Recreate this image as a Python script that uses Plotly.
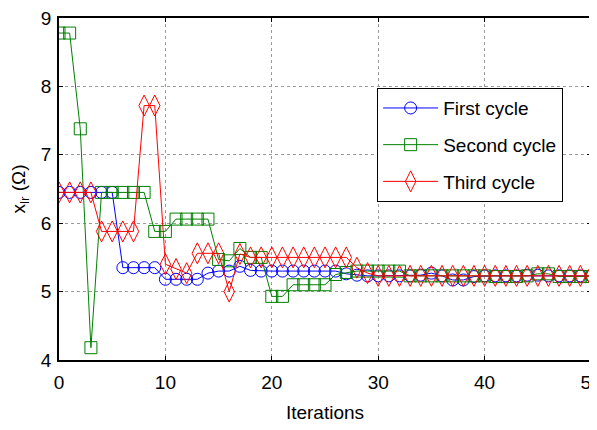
import plotly.graph_objects as go

iterations = list(range(51))

first_cycle = [6.45, 6.45, 6.45, 6.45, 6.45, 6.45,
               5.35, 5.35, 5.35, 5.35,
               5.18, 5.18, 5.18, 5.18,
               5.27, 5.30, 5.30, 5.37, 5.31,
               5.30, 5.30, 5.30, 5.30, 5.30, 5.30, 5.30, 5.30,
               5.26, 5.24, 5.23,
               5.23, 5.23, 5.23, 5.23, 5.24, 5.27, 5.23, 5.17, 5.17, 5.22,
               5.23, 5.23, 5.23, 5.23, 5.24, 5.24, 5.23, 5.23, 5.23, 5.23, 5.23]

second_cycle = [8.78, 8.78, 7.38, 4.18,
                6.45, 6.45, 6.45, 6.45, 6.45,
                5.88, 5.88,
                6.06, 6.06, 6.06, 6.06,
                5.47, 5.45, 5.63, 5.50, 5.50,
                4.93, 4.93,
                5.10, 5.10, 5.10, 5.10,
                5.25, 5.28,
                5.30, 5.30, 5.30, 5.30, 5.30,
                5.23, 5.23, 5.23, 5.23, 5.23, 5.23, 5.23, 5.23,
                5.22, 5.22, 5.22, 5.23, 5.26, 5.26, 5.22, 5.22, 5.22, 5.22]

third_cycle = [6.45, 6.45, 6.45, 6.45,
               5.88, 5.88, 5.88, 5.88,
               7.72, 7.72,
               5.40, 5.33, 5.27,
               5.56, 5.56, 5.56,
               5.00, 5.55,
               5.50, 5.50, 5.50, 5.50, 5.50, 5.50, 5.50, 5.50, 5.50, 5.50,
               5.35, 5.27,
               5.23, 5.23, 5.23, 5.23, 5.23, 5.23, 5.23, 5.23, 5.23, 5.23,
               5.23, 5.23, 5.23, 5.23, 5.23, 5.23, 5.23, 5.23, 5.23, 5.23, 5.23]

x_ticks = [0, 10, 20, 30, 40, 50]
y_ticks = [4, 5, 6, 7, 8, 9]

series = [
    ("First cycle", first_cycle, "#0000ff", "circle-open", 12),
    ("Second cycle", second_cycle, "#008000", "square-open", 12),
    ("Third cycle", third_cycle, "#ff0000", "diamond-tall-open", 15),
]

font_family = "Liberation Sans, Arial, sans-serif"

fig = go.Figure()
for i, (name, vals, color, sym, size) in enumerate(series):
    fig.add_trace(go.Scatter(
        x=iterations, y=vals, name=name, mode="lines+markers",
        line=dict(color=color, width=1),
        marker=dict(symbol=sym, size=size, color=color, line=dict(color=color, width=1)),
        legendgroup="g%d" % i,
    ))

axis_common = dict(
    showline=True, linecolor="black", linewidth=1.5, mirror="ticks",
    ticks="inside", ticklen=4, tickcolor="black",
    showgrid=True, gridcolor="#9a9a9a", griddash="dot", gridwidth=1,
    zeroline=False, automargin=False, ticklabeloverflow="allow",
    tickfont=dict(family=font_family, size=19, color="black"),
)

fig.update_xaxes(range=[0, 50], tickvals=x_ticks,
                 ticklabelstandoff=4,
                 title=dict(text="Iterations", font=dict(family=font_family, size=19, color="black"), standoff=14),
                 **axis_common)
fig.update_yaxes(range=[4, 9], tickvals=y_ticks, ticklabelstandoff=2,
                 title=dict(text="x<sub>lr</sub> (Ω)", font=dict(family=font_family, size=19, color="black"), standoff=14),
                 **axis_common)

# the page places the figure 8px in from the top-left corner
fig.update_layout(
    width=589, height=422,
    margin=dict(l=51, r=6, t=10, b=70),
    paper_bgcolor="white", plot_bgcolor="white",
    showlegend=True,
    legend=dict(
        x=0.598, y=0.795, xanchor="left", yanchor="top",
        bgcolor="white", bordercolor="black", borderwidth=1,
        font=dict(family=font_family, size=19, color="black"),
        itemwidth=55, tracegroupgap=9, traceorder="grouped",
    ),
)

fig.write_html("out.html")
